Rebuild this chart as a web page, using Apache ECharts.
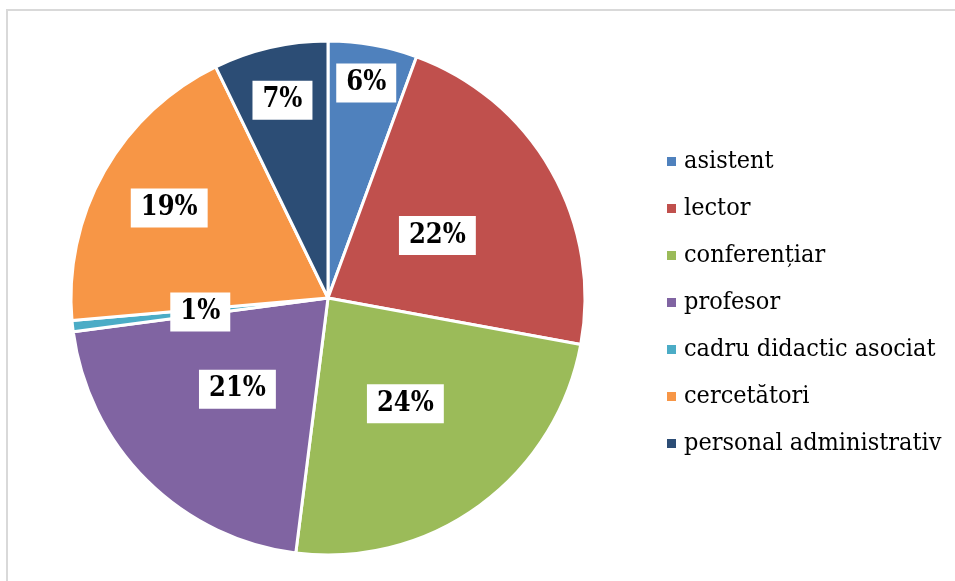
<!DOCTYPE html>
<html>
<head>
<meta charset="utf-8">
<script src="https://cdn.jsdelivr.net/npm/echarts@6/dist/echarts.min.js"></script>
<style>
  html, body { margin: 0; padding: 0; background: #fff; }
  #chart { width: 955px; height: 581px; }
</style>
</head>
<body>
<div id="chart"></div>
<script>
  // categorii si valori (procente)
  var categories = ['asistent', 'lector', 'conferențiar', 'profesor', 'cadru didactic asociat', 'cercetători', 'personal administrativ'];
  var values = [5.6, 22.3, 24.1, 20.9, 0.7, 19.2, 7.2];
  var colors = ['#4F81BD', '#C0504D', '#9BBB59', '#8064A2', '#4BACC6', '#F79646', '#2C4D75'];
  // distanta eticheta fata de centru (fractie din raza), ca in Excel "best fit"
  var labelDist = [0.85, 0.49, 0.51, 0.5, 0.5, 0.71, 0.79];

  var cx = 328, cy = 298, R = 257;
  var total = values.reduce(function (a, b) { return a + b; }, 0);

  var myChart = echarts.init(document.getElementById('chart'));
  var fontFam = '"DejaVu Serif Condensed", "DejaVu Serif", serif';

  var option = {
    animation: false,
    color: colors,
    graphic: [{
      type: 'rect',
      shape: { x: 7, y: 10, width: 960, height: 600 },
      style: { fill: 'none', stroke: '#d9d9d9', lineWidth: 2 },
      silent: true
    }],
    legend: {
      orient: 'vertical',
      left: 660,
      top: 144,
      itemWidth: 11,
      itemHeight: 11,
      itemGap: 22,
      icon: 'rect',
      textStyle: { fontFamily: fontFam, fontSize: 25, color: '#000', padding: [0, 0, 0, 2] },
      data: categories
    },
    series: [{
      type: 'pie',
      center: [cx, cy],
      radius: R,
      startAngle: 90,
      clockwise: true,
      itemStyle: { borderColor: '#fff', borderWidth: 3 },
      label: {
        position: 'inside',
        formatter: function (p) { return Math.round(p.percent) + '%'; },
        fontFamily: fontFam,
        fontWeight: 'bold',
        fontSize: 27,
        color: '#000',
        backgroundColor: '#fff',
        padding: [7, 10, 5, 10]
      },
      labelLayout: function (params) {
        var i = params.dataIndex;
        var before = 0;
        for (var k = 0; k < i; k++) before += values[k];
        var mid = (before + values[i] / 2) / total * Math.PI * 2;
        var d = labelDist[i] * R;
        return {
          x: cx + Math.sin(mid) * d,
          y: cy - Math.cos(mid) * d,
          align: 'center',
          verticalAlign: 'middle'
        };
      },
      data: categories.map(function (c, i) {
        return { name: c, value: values[i] };
      })
    }]
  };
  myChart.setOption(option, true);
</script>
</body>
</html>
